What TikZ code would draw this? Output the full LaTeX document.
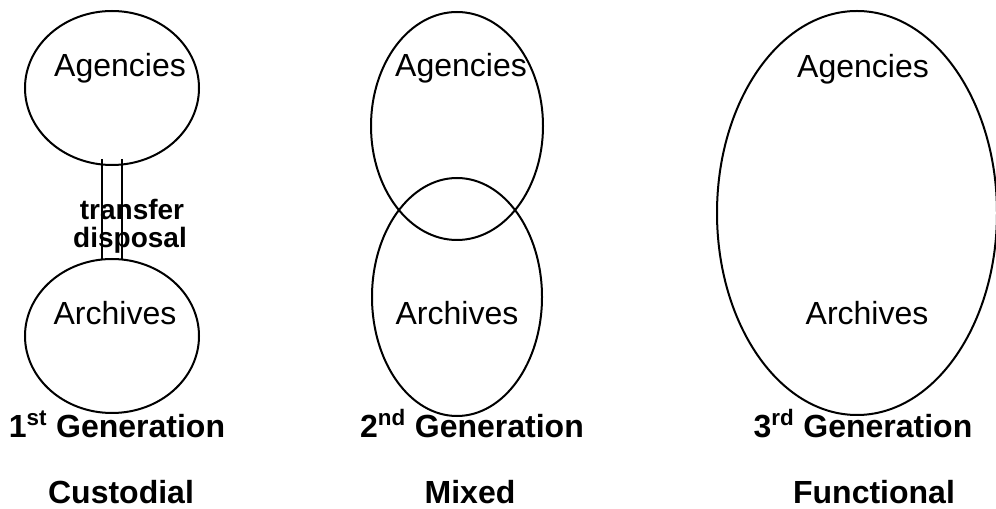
\documentclass[tikz,border=0pt]{standalone}
\usepackage{fontspec}
\setmainfont{Liberation Sans}
\usetikzlibrary{shapes.geometric}
\begin{document}
\begin{tikzpicture}[x=0.75pt,y=-0.75pt,
  oval/.style={draw, ellipse, line width=1.5pt, inner sep=0pt},
  lbl/.style={font=\fontsize{24}{28}\selectfont, inner sep=0pt, anchor=base},
  boldlbl/.style={font=\fontsize{24}{28}\selectfont\bfseries, inner sep=0pt, anchor=base},
  smalllbl/.style={font=\fontsize{21}{24}\selectfont\bfseries, inner sep=0pt, anchor=base},
  link/.style={line width=1.5pt}]
\useasboundingbox (0,0) rectangle (996,509);
% ellipses
\node[oval, minimum width=130.5pt, minimum height=115.5pt] (ag1) at (112,88) {};
\node[oval, minimum width=130.5pt, minimum height=115.5pt] (ar1) at (112,336) {};
\node[oval, minimum width=129pt, minimum height=171pt] (ag2) at (457,126) {};
\node[oval, minimum width=127.5pt, minimum height=178.5pt] (ar2) at (457,297) {};
\node[oval, minimum width=210pt, minimum height=303pt] (all3) at (857,213) {};
% connectors
\coordinate (l1t) at (102,159);
\coordinate (l1b) at (102,259);
\coordinate (l2t) at (122,159);
\coordinate (l2b) at (122,259);
\draw[link] (l1t) -- (l1b);
\draw[link] (l2t) -- (l2b);
% labels
\node[lbl] (tag1) at (120,77) {Agencies};
\node[lbl] (tar1) at (115,325) {Archives};
\node[lbl] (tag2) at (461,77) {Agencies};
\node[lbl] (tar2) at (457,325) {Archives};
\node[lbl] (tag3) at (863,78) {Agencies};
\node[lbl] (tar3) at (867,325) {Archives};
\node[smalllbl] (tr) at (132,220) {transfer};
\node[smalllbl] (dp) at (130,248) {disposal};
\node[boldlbl] (g1) at (117,438) {1\textsuperscript{st} Generation};
\node[boldlbl] (g2) at (472,438) {2\textsuperscript{nd} Generation};
\node[boldlbl] (g3) at (863,438) {3\textsuperscript{rd} Generation};
\node[boldlbl] (c1) at (121,503) {Custodial};
\node[boldlbl] (c2) at (470,503) {Mixed};
\node[boldlbl] (c3) at (874,503) {Functional};
\end{tikzpicture}
\end{document}
